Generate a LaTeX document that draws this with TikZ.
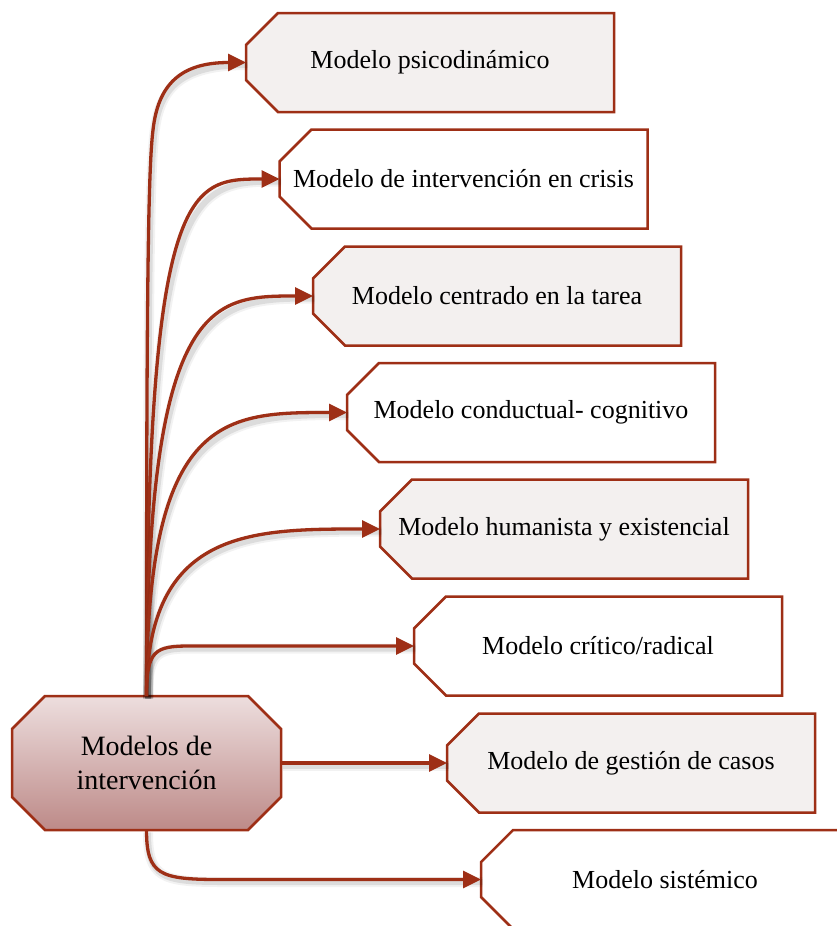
\documentclass[tikz,border=0pt]{standalone}
\usepackage{fontspec}
\setmainfont{Liberation Serif}
\usetikzlibrary{arrows.meta,calc,backgrounds}
\definecolor{linec}{RGB}{158,47,22}
\definecolor{boxfill}{RGB}{243,240,239}
\definecolor{ctop}{RGB}{237,222,222}
\definecolor{cbot}{RGB}{189,138,136}
\tikzset{
  boxnode/.style={draw=none, inner sep=0pt, outer sep=0pt, minimum width=368pt, minimum height=99pt,
    font=\fontsize{26}{31}\selectfont, text=black},
  centernode/.style={draw=none, inner sep=0pt, outer sep=0pt, minimum width=269pt, minimum height=134pt,
    align=center, font=\fontsize{28}{34}\selectfont, text=black},
  boxline/.style={draw=linec, line width=2.5pt, line join=miter},
  conn/.style={draw=linec, line width=3.3pt, -{Triangle[length=18pt,width=17pt]},
    preaction={draw=black, opacity=0.05, line width=10pt, arrows=-, transform canvas={shift={(1.5pt,-2.5pt)}}},
    preaction={draw=black, opacity=0.09, line width=6pt, arrows=-, transform canvas={shift={(1.5pt,-2.5pt)}}}},
}
\newcommand\chambox[2]{%
  \path[boxline, fill=#2] ($(#1.north west)+(32,0)$) -- (#1.north east) -- (#1.south east)
    -- ($(#1.south west)+(32,0)$) -- ($(#1.south west)+(0,32)$) -- ($(#1.north west)+(0,-32)$) -- cycle;}
\begin{document}
\begin{tikzpicture}[x=1pt,y=1pt]
\useasboundingbox (0,0) rectangle (836,-926);
\clip (0,0) rectangle (836,-926);

\node[centernode] (c) at (146.5,-763) {Modelos de\\intervención};

\node[boxnode] (b1) at (430,-62.5) {Modelo psicodinámico};
\node[boxnode] (b2) at (463.5,-179) {Modelo de intervención en crisis};
\node[boxnode] (b3) at (497,-296) {Modelo centrado en la tarea};
\node[boxnode] (b4) at (531,-412.5) {Modelo conductual- cognitivo};
\node[boxnode] (b5) at (564,-529) {Modelo humanista y existencial};
\node[boxnode] (b6) at (598,-646) {Modelo crítico/radical};
\node[boxnode] (b7) at (631,-763) {Modelo de gestión de casos};
\node[boxnode] (b8) at (665,-879.5) {Modelo sistémico};

\begin{scope}[on background layer]
  \chambox{b1}{boxfill}
  \chambox{b2}{white}
  \chambox{b3}{boxfill}
  \chambox{b4}{white}
  \chambox{b5}{boxfill}
  \chambox{b6}{white}
  \chambox{b7}{boxfill}
  \chambox{b8}{white}
  \path[boxline, top color=ctop, bottom color=cbot]
    ($(c.north west)+(33,0)$) -- ($(c.north east)+(-33,0)$) -- ($(c.north east)+(0,-33)$)
    -- ($(c.south east)+(0,33)$) -- ($(c.south east)+(-33,0)$) -- ($(c.south west)+(33,0)$)
    -- ($(c.south west)+(0,33)$) -- ($(c.north west)+(0,-33)$) -- cycle;
\end{scope}

\draw[conn] (c.north) .. controls (146.5,-300) and (148,-170) .. (153,-130)
  .. controls (158,-85) and (180,-62.5) .. (b1.west);
\draw[conn] (c.north) .. controls (146.5,-179) and (190,-179) .. (b2.west);
\draw[conn] (c.north) .. controls (146.5,-296) and (213,-296) .. (b3.west);
\draw[conn] (c.north) .. controls (146.5,-412.5) and (226,-412.5) .. (b4.west);
\draw[conn] (c.north) .. controls (146.5,-529) and (251,-529) .. (b5.west);
\draw[conn] (c.north) .. controls (146.5,-650) and (155,-646) .. (190,-646) -- (b6.west);
\draw[conn] (c.east) -- (b7.west);
\draw[conn] (c.south) .. controls (146.5,-875) and (160,-879.5) .. (220,-879.5) -- (b8.west);
\end{tikzpicture}
\end{document}
